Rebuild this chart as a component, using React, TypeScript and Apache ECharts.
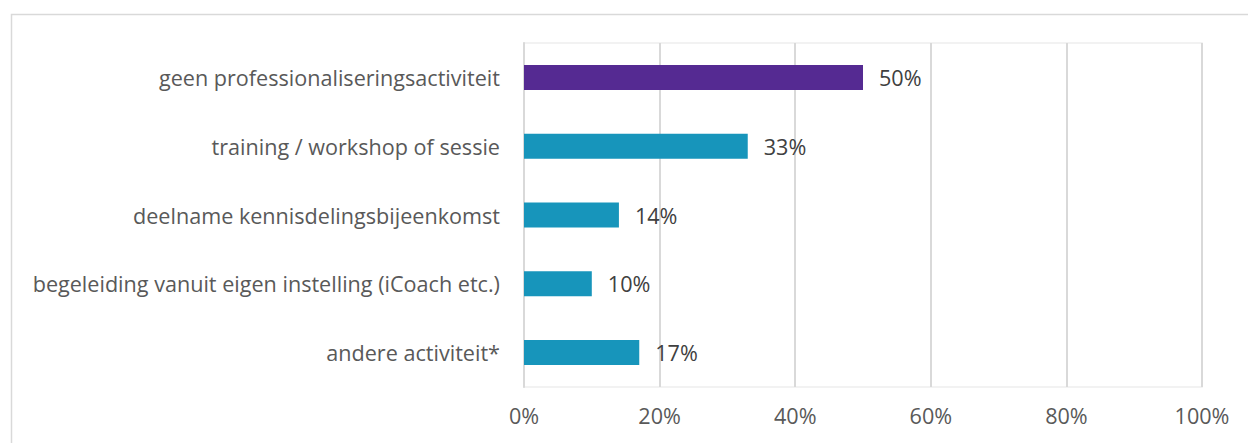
import React, { useEffect, useRef } from "react";
import * as echarts from "echarts";

const categories = [
  "geen professionaliseringsactiviteit",
  "training / workshop of sessie",
  "deelname kennisdelingsbijeenkomst",
  "begeleiding vanuit eigen instelling (iCoach etc.)",
  "andere activiteit*",
];
const values = [50, 33, 14, 10, 17];
const barColors = ["#552A92", "#1795BB", "#1795BB", "#1795BB", "#1795BB"];
const xTicks = [0, 20, 40, 60, 80, 100];

const FONT = "'Open Sans', 'Noto Sans', sans-serif";
const FS = 21.6;

export default function App() {
  const ref = useRef<HTMLDivElement>(null);
  useEffect(() => {
    document.body.style.margin = "0";
    const chart = echarts.init(ref.current!, null, { renderer: "svg" });
    chart.setOption({
      animation: false,
      backgroundColor: "#ffffff",
      graphic: [
        {
          type: "rect",
          shape: { x: 11.5, y: 14.5, width: 1300, height: 500 },
          style: { fill: "none", stroke: "#d9d9d9", lineWidth: 1.5 },
          silent: true,
          z: 0,
        },
      ],
      grid: {
        left: 524,
        right: 46,
        top: 43,
        bottom: 56,
        show: true,
        borderColor: "#eeeeee",
        borderWidth: 1.5,
      },
      xAxis: {
        type: "value",
        min: 0,
        max: 100,
        interval: 20,
        axisLine: { show: false },
        axisTick: { show: false },
        splitLine: { show: true, lineStyle: { color: "#d9d9d9", width: 2 } },
        axisLabel: {
          color: "#595959",
          fontFamily: FONT,
          fontSize: FS,
          margin: 17,
          formatter: (v: number) => (xTicks.includes(v) ? v + "%" : ""),
        },
      },
      yAxis: {
        type: "category",
        data: categories,
        inverse: true,
        axisLine: { show: true, lineStyle: { color: "#d9d9d9", width: 2 } },
        axisTick: { show: false },
        axisLabel: {
          color: "#595959",
          fontFamily: FONT,
          fontSize: FS,
          margin: 24,
        },
      },
      series: [
        {
          type: "bar",
          barWidth: 25,
          data: values.map((v, i) => ({ value: v, itemStyle: { color: barColors[i] } })),
          label: {
            show: true,
            position: "right",
            distance: 16,
            color: "#404040",
            fontFamily: FONT,
            fontSize: FS,
            formatter: (p: any) => p.value + "%",
          },
        },
      ],
    });
    return () => chart.dispose();
  }, []);
  return <div ref={ref} style={{ width: 1248, height: 443 }} />;
}
